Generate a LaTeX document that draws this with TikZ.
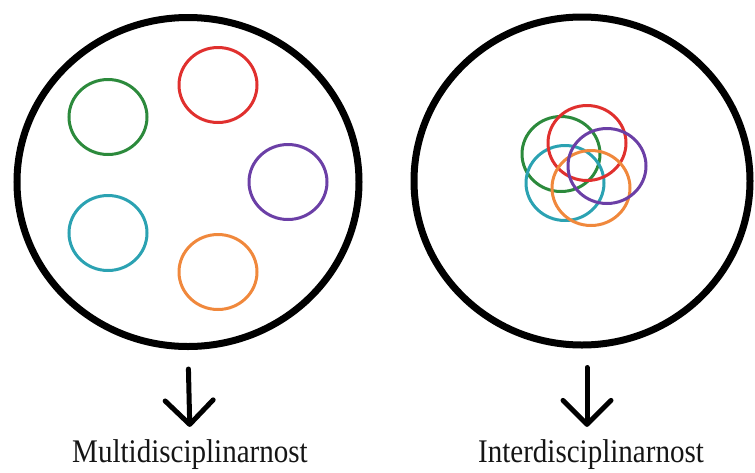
\documentclass[tikz,border=0pt]{standalone}
\usepackage{fontspec}
\setmainfont{Liberation Serif}
\usepackage{tikz}
\usetikzlibrary{shapes.geometric,arrows.meta,positioning}
\usepackage{xcolor}
\definecolor{greencol}{HTML}{2C8A3C}
\definecolor{redcol}{HTML}{E0302E}
\definecolor{purplecol}{HTML}{6B3FA6}
\definecolor{cyancol}{HTML}{2BA2B2}
\definecolor{orangecol}{HTML}{F0883C}
\definecolor{textcol}{HTML}{151515}
\newcommand{\narrow}[1]{\scalebox{0.88}[1]{#1}}

\begin{document}
\begin{tikzpicture}[x=1pt,y=-1pt,
  field/.style={ellipse,draw=black,line width=7pt,inner sep=0pt},
  ring/.style={ellipse,draw,line width=3pt,inner sep=0pt,minimum width=78pt,minimum height=75pt},
  lab/.style={font=\fontsize{33}{34}\selectfont,text=textcol,anchor=base,inner sep=2pt},
  arr/.style={line width=5pt,line cap=round,-{Straight Barb[length=24pt,width=48pt,round]},
    shorten <=19pt,shorten >=10pt}]
\useasboundingbox (0,0) rectangle (755,472);
% multidisciplinarity: separate rings
\node[field,minimum width=342pt,minimum height=329pt] (multi) at (188,182) {};
\node[ring,draw=greencol]  (mgreen)  at (108,117) {};
\node[ring,draw=redcol]    (mred)    at (218,85)  {};
\node[ring,draw=purplecol] (mpurple) at (288,182) {};
\node[ring,draw=cyancol]   (mcyan)   at (108,233) {};
\node[ring,draw=orangecol] (morange) at (218,272) {};
% interdisciplinarity: overlapping rings
\node[field,minimum width=336pt,minimum height=328pt] (inter) at (582,181) {};
\node[ring,draw=greencol]  (igreen)  at (561,154) {};
\node[ring,draw=cyancol]   (icyan)   at (565,183) {};
\node[ring,draw=redcol]    (ired)    at (587,143) {};
\node[ring,draw=orangecol] (iorange) at (591,188) {};
\node[ring,draw=purplecol] (ipurple) at (607,166) {};
% labels
\node[lab] (multilab) at (190,462) {\narrow{Multidisciplinarnost}};
\node[lab] (interlab) at (591,462) {\narrow{Interdisciplinarnost}};
\draw[arr] (multi.south) -- (multilab.north);
\draw[arr] ([xshift=5pt]inter.south) -- ([xshift=-4pt]interlab.north);
\end{tikzpicture}
\end{document}
